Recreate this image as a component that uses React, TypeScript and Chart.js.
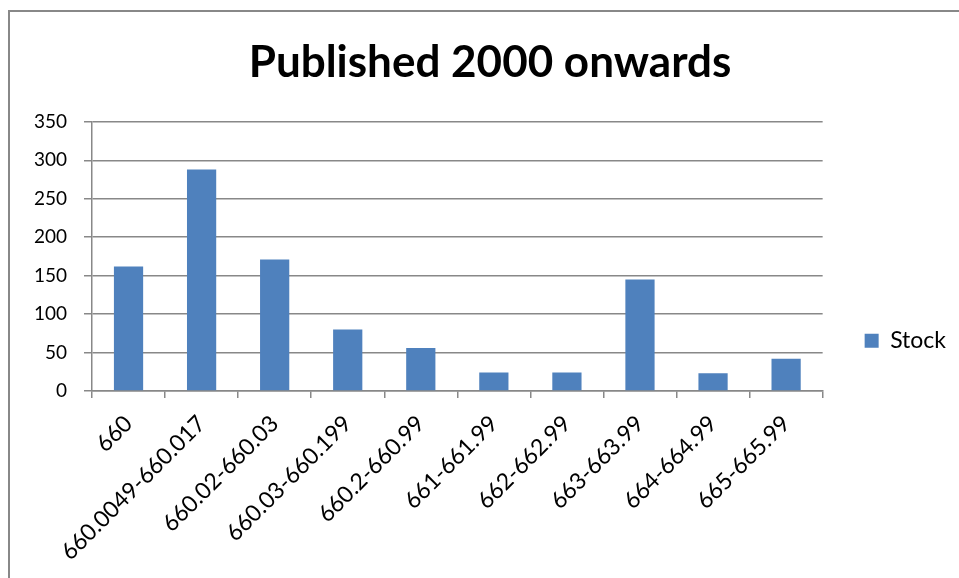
import React, { useEffect, useRef } from "react";
import { Chart, registerables } from "chart.js";

Chart.register(...registerables);

const chartTitle = "Published 2000 onwards";
const seriesName = "Stock";
const categories = [
  "660",
  "660.0049-660.017",
  "660.02-660.03",
  "660.03-660.199",
  "660.2-660.99",
  "661-661.99",
  "662-662.99",
  "663-663.99",
  "664-664.99",
  "665-665.99",
];
const stockValues = [162, 288, 171, 80, 56, 24, 24, 145, 23, 42];
const yMin = 0;
const yMax = 350;
const yStep = 50;

const FONT = "Lato, 'Open Sans', sans-serif";
const GRID = "#888888";
const BAR = "#4f81bd";

export default function App() {
  const ref = useRef<HTMLCanvasElement | null>(null);

  useEffect(() => {
    if (!ref.current) return;
    const chart = new Chart(ref.current, {
      type: "bar",
      data: {
        labels: categories,
        datasets: [
          {
            label: seriesName,
            data: stockValues,
            backgroundColor: BAR,
            borderWidth: 0,
            barPercentage: 0.4,
            categoryPercentage: 1,
          },
        ],
      },
      options: {
        responsive: false,
        animation: false,
        devicePixelRatio: 1,
        layout: { padding: { left: 24, right: 3, top: 0, bottom: 0 } },
        plugins: {
          title: {
            display: true,
            text: chartTitle,
            color: "#000",
            font: { family: FONT, size: 44, weight: "bold" },
            padding: { top: 36, bottom: 33 },
          },
          legend: {
            display: true,
            position: "right",
            title: {
              display: true,
              text: " ",
              font: { size: 12 },
              padding: { top: 0, bottom: 89 },
            },
            labels: {
              color: "#000",
              font: { family: FONT, size: 23 },
              boxWidth: 14,
              boxHeight: 14,
              padding: 42,
            },
          },
          tooltip: { enabled: false },
        },
        scales: {
          x: {
            offset: true,
            grid: {
              display: true,
              offset: true,
              drawOnChartArea: false,
              drawTicks: true,
              tickLength: 7,
              color: GRID,
              lineWidth: 1.5,
            },
            border: { display: true, color: GRID, width: 1.5 },
            ticks: {
              color: "#000",
              font: { family: FONT, size: 23 },
              maxRotation: 45,
              minRotation: 45,
              padding: 12,
              autoSkip: false,
            },
            afterFit: (s: any) => {
              s.height = 187;
            },
          },
          y: {
            min: yMin,
            max: yMax,
            ticks: {
              stepSize: yStep,
              color: "#000",
              font: { family: FONT, size: 19 },
              padding: 17,
            },
            grid: {
              color: GRID,
              lineWidth: 1.5,
              tickLength: 8,
            },
            border: { display: true, color: GRID, width: 1.5 },
            afterFit: (s: any) => {
              s.width = 68;
            },
          },
        },
      },
    });
    return () => chart.destroy();
  }, []);

  return (
    <div
      style={{
        position: "fixed",
        left: 0,
        top: 0,
        width: 959,
        height: 578,
        overflow: "hidden",
        background: "#fff",
      }}
    >
      <div
        style={{
          position: "absolute",
          left: 8,
          top: 10,
          width: 1000,
          height: 1000,
          borderLeft: "2px solid #888",
          borderTop: "2px solid #888",
        }}
      />
      <canvas
        ref={ref}
        width={959}
        height={578}
        style={{ position: "absolute", left: 0, top: 0, width: 959, height: 578 }}
      />
    </div>
  );
}
